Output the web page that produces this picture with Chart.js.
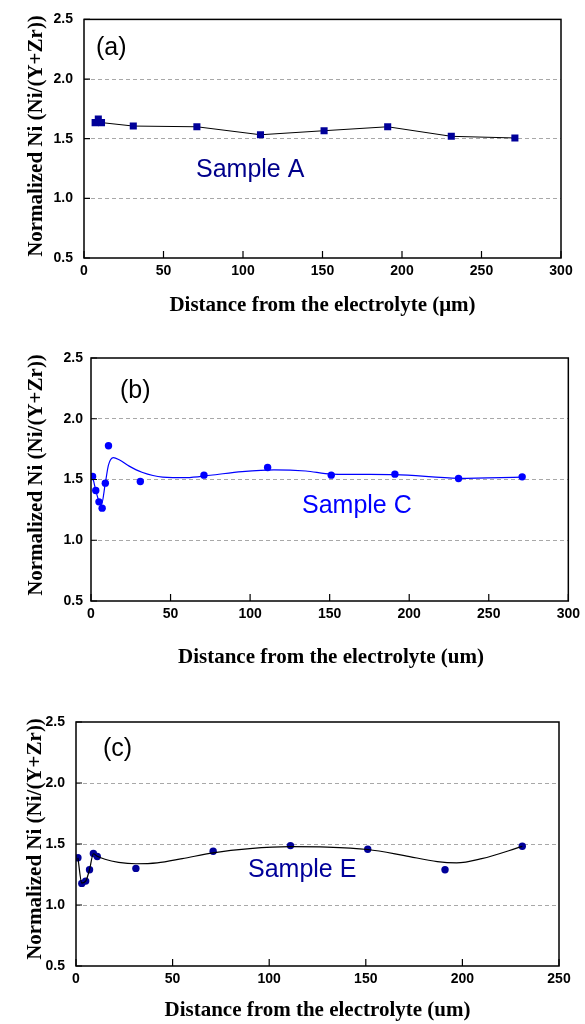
<!DOCTYPE html>
<html>
<head>
<meta charset="utf-8">
<script src="https://cdn.jsdelivr.net/npm/chart.js@4"></script>
<style>
  body { margin: 0; background: #fff; width: 585px; height: 1024px; position: relative; overflow: hidden; }
  canvas { position: absolute; left: 0; }
</style>
</head>
<body>
<canvas id="chartA" width="585" height="330" style="top:0px"></canvas>
<canvas id="chartB" width="585" height="360" style="top:330px"></canvas>
<canvas id="chartC" width="585" height="334" style="top:690px"></canvas>
<script>
// panel (a) - sample A, measured points
var aDist = [7, 9, 11, 31, 71, 111, 151, 191, 231, 271];
var aNi = [1.635, 1.665, 1.635, 1.606, 1.600, 1.533, 1.567, 1.600, 1.520, 1.506];

// panel (b) - sample C, points + smoothed curve
var bDist = [1, 3, 5, 7, 9, 11, 31, 71, 111, 151, 191, 231, 271];
var bNi = [1.525, 1.41, 1.316, 1.264, 1.47, 1.778, 1.484, 1.536, 1.599, 1.536, 1.544, 1.508, 1.522];
var bFitDist = [1, 3, 5, 6.5, 9, 11, 14, 18, 24, 32, 45, 60, 75, 95, 115, 135, 151, 191, 231, 271];
var bFitNi = [1.525, 1.41, 1.32, 1.29, 1.47, 1.62, 1.68, 1.66, 1.61, 1.56, 1.52, 1.515, 1.535, 1.565, 1.58, 1.57, 1.545, 1.54, 1.51, 1.52];

// panel (c) - sample E, points + smoothed curve
var cDist = [1, 3, 5, 7, 9, 11, 31, 71, 111, 151, 191, 231];
var cNi = [1.387, 1.177, 1.196, 1.289, 1.422, 1.397, 1.30, 1.44, 1.487, 1.457, 1.289, 1.481];
var cFitDist = [1, 3, 5, 7, 9, 11, 15, 22, 31, 42, 55, 71, 90, 111, 130, 151, 170, 187, 197, 210, 231];
var cFitNi = [1.387, 1.18, 1.195, 1.29, 1.42, 1.40, 1.375, 1.35, 1.338, 1.345, 1.38, 1.428, 1.462, 1.478, 1.475, 1.455, 1.405, 1.355, 1.345, 1.38, 1.48];

// axis ticks
var yTicks = [0.5, 1.0, 1.5, 2.0, 2.5];
var xMaxAC = 300, xMaxC = 250, xStep = 50;

var yTitle = 'Normalized Ni (Ni/(Y+Zr))';
var xTitleA = 'Distance from the electrolyte (\u03bcm)';
var xTitleBC = 'Distance from the electrolyte (um)';

function pts(xs, ys) {
  var out = [];
  for (var i = 0; i < xs.length; i++) out.push({x: xs[i], y: ys[i]});
  return out;
}

var SANS = '"Liberation Sans", Arial, sans-serif';
var SERIF = '"Liberation Serif", "Times New Roman", serif';

//frame, inside ticks and text labels
var framePlugin = {
  id: 'frame',
  afterDraw: function(chart, args, o) {
    var ctx = chart.ctx, a = chart.chartArea;
    var xs = chart.scales.x, ys = chart.scales.y;
    ctx.save();
    ctx.strokeStyle = '#000';
    ctx.lineWidth = 1.2;
    // inside ticks
    ctx.beginPath();
    xs.ticks.forEach(function(t) {
      var px = xs.getPixelForValue(t.value);
      ctx.moveTo(px, a.bottom);
      ctx.lineTo(px, a.bottom - 7);
    });
    ys.ticks.forEach(function(t) {
      var py = ys.getPixelForValue(t.value);
      ctx.moveTo(a.left, py);
      ctx.lineTo(a.left + 6, py);
    });
    ctx.stroke();
    ctx.lineWidth = 1.5;
    ctx.strokeRect(a.left, a.top, a.right - a.left, a.bottom - a.top);
    // texts
    o.texts.forEach(function(t) {
      ctx.save();
      ctx.font = t.font;
      ctx.fillStyle = t.color || '#000';
      ctx.textAlign = t.align || 'center';
      ctx.textBaseline = 'middle';
      ctx.translate(t.x, t.y);
      if (t.rot) ctx.rotate(t.rot);
      ctx.fillText(t.text, 0, 0);
      ctx.restore();
    });
    ctx.restore();
  }
};

function makeChart(id, datasets, xMax, lay, texts) {
  var ctx = document.getElementById(id).getContext('2d');
  return new Chart(ctx, {
    type: 'scatter',
    data: { datasets: datasets },
    plugins: [framePlugin],
    options: {
      responsive: false,
      animation: false,
      layout: { padding: { top: lay.top, right: lay.right, left: 0, bottom: 0 } },
      plugins: {
        legend: { display: false },
        tooltip: { enabled: false },
        frame: { texts: texts }
      },
      scales: {
        x: {
          type: 'linear',
          min: 0, max: xMax,
          afterFit: function(s) { s.height = lay.xh; },
          ticks: { stepSize: xStep, padding: 5, color: '#000',
                   font: { family: SANS, weight: 'bold', size: 14 } },
          grid: { display: false, drawTicks: false },
          border: { display: false }
        },
        y: {
          min: yTicks[0], max: yTicks[yTicks.length - 1],
          afterFit: function(s) { s.width = lay.yw; },
          afterBuildTicks: function(s) { s.ticks = yTicks.map(function(v) { return {value: v}; }); },
          ticks: { padding: lay.ypad, color: '#000',
                   font: { family: SANS, weight: 'bold', size: 14 },
                   callback: function(v) { return Number(v).toFixed(1); } },
          grid: {
            drawTicks: false,
            lineWidth: 1,
            color: function(c) {
              var v = c.tick ? c.tick.value : 0;
              return (v > 0.6 && v < 2.4) ? '#a8a8a8' : 'rgba(0,0,0,0)';
            }
          },
          border: { display: false, dash: [4, 3] }
        }
      }
    }
  });
}

makeChart('chartA', [
  {
    data: pts(aDist, aNi),
    showLine: true,
    borderColor: '#000',
    borderWidth: 1,
    pointStyle: 'rect',
    pointRadius: 5,
    pointBackgroundColor: '#000099',
    pointBorderColor: '#000099',
    pointBorderWidth: 0
  }
], xMaxAC, {top: 18, right: 24, yw: 84, xh: 72, ypad: 11}, [
  {text: '(a)', x: 96, y: 48, align: 'left', font: '25px ' + SANS},
  {text: 'Sample A', x: 196, y: 170, align: 'left', font: '25px ' + SANS, color: '#00008b'},
  {text: xTitleA, x: 322.5, y: 306, font: 'bold 21px ' + SERIF},
  {text: yTitle, x: 37, y: 136, rot: -Math.PI / 2, font: 'bold 21px ' + SERIF}
]);

makeChart('chartB', [
  {
    data: pts(bFitDist, bFitNi),
    showLine: true,
    borderColor: '#0000ff',
    borderWidth: 1.2,
    pointRadius: 0,
    cubicInterpolationMode: 'monotone'
  },
  {
    data: pts(bDist, bNi),
    showLine: false,
    pointRadius: 3.7,
    pointBackgroundColor: '#0000ff',
    pointBorderColor: '#0000ff',
    pointBorderWidth: 0
  }
], xMaxAC, {top: 28, right: 14, yw: 91, xh: 89, ypad: 8}, [
  {text: '(b)', x: 120, y: 61, align: 'left', font: '25px ' + SANS},
  {text: 'Sample C', x: 302, y: 176, align: 'left', font: '25px ' + SANS, color: '#0000ff'},
  {text: xTitleBC, x: 331, y: 328, font: 'bold 21px ' + SERIF},
  {text: yTitle, x: 37, y: 145, rot: -Math.PI / 2, font: 'bold 21px ' + SERIF}
]);

makeChart('chartC', [
  {
    data: pts(cFitDist, cFitNi),
    showLine: true,
    borderColor: '#000',
    borderWidth: 1.2,
    pointRadius: 0,
    cubicInterpolationMode: 'monotone'
  },
  {
    data: pts(cDist, cNi),
    showLine: false,
    pointRadius: 3.7,
    pointBackgroundColor: '#000099',
    pointBorderColor: '#000099',
    pointBorderWidth: 0
  }
], xMaxC, {top: 32, right: 26, yw: 76, xh: 58, ypad: 11}, [
  {text: '(c)', x: 103, y: 59, align: 'left', font: '25px ' + SANS},
  {text: 'Sample E', x: 248, y: 180, align: 'left', font: '25px ' + SANS, color: '#000099'},
  {text: xTitleBC, x: 317.5, y: 321, font: 'bold 21px ' + SERIF},
  {text: yTitle, x: 36, y: 149, rot: -Math.PI / 2, font: 'bold 21px ' + SERIF}
]);
</script>
</body>
</html>
